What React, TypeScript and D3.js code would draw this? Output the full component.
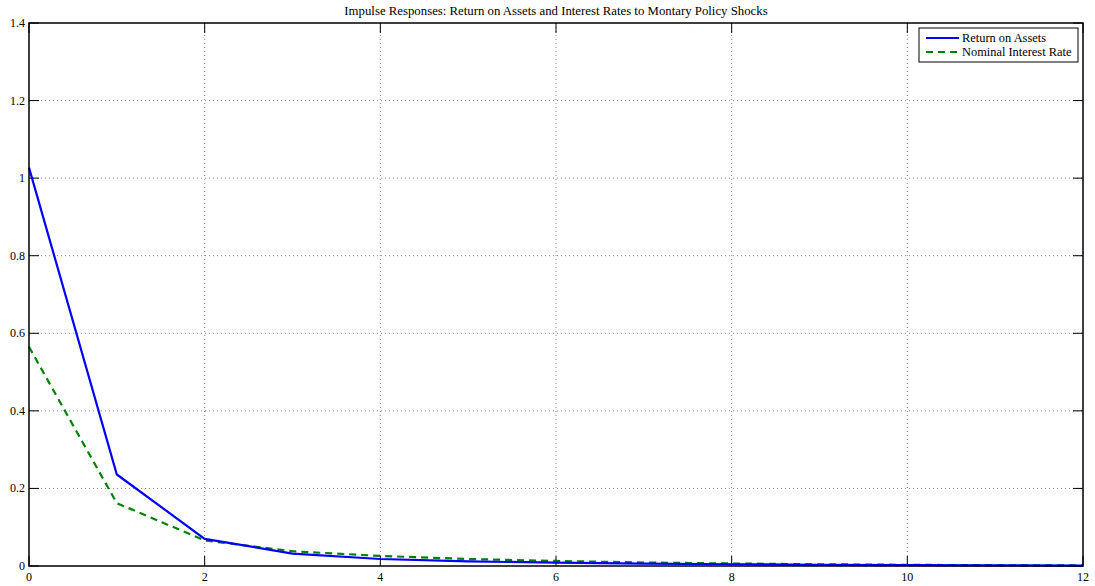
import { useEffect, useRef } from 'react';
import * as d3 from 'd3';

// impulse response horizon (periods)
const periods = [0, 1, 2, 3, 4, 5, 6, 7, 8, 9, 10, 11, 12];
const returnOnAssets = [1.027, 0.236, 0.070, 0.032, 0.018, 0.012, 0.0085, 0.006, 0.0045, 0.003, 0.002, 0.0015, 0.001];
const nominalRate = [0.565, 0.162, 0.066, 0.038, 0.026, 0.018, 0.013, 0.009, 0.0065, 0.0045, 0.003, 0.002, 0.0015];
const xTicks = [0, 2, 4, 6, 8, 10, 12];
const yTicks = [0, 0.2, 0.4, 0.6, 0.8, 1, 1.2, 1.4];
const seriesNames = ['Return on Assets', 'Nominal Interest Rate'];

const W = 1095;
const H = 586;
const margin = { left: 29, right: 12, top: 23, bottom: 20 };

export default function App() {
    const svgRef = useRef<SVGSVGElement>(null);

    useEffect(() => {
        const svg = d3.select(svgRef.current);
        svg.selectAll('*').remove();

        const innerW = W - margin.left - margin.right;
        const innerH = H - margin.top - margin.bottom;
        const x = d3.scaleLinear().domain([0, 12]).range([0, innerW]);
        const y = d3.scaleLinear().domain([0, 1.4]).range([innerH, 0]);
        const font = '"Liberation Serif", "Times New Roman", serif';

        const g = svg.append('g').attr('transform', `translate(${margin.left},${margin.top})`);

        // dotted grid
        g.selectAll('.gx').data(xTicks.slice(1, -1)).enter().append('line')
            .attr('x1', (d) => x(d)).attr('x2', (d) => x(d))
            .attr('y1', 0).attr('y2', innerH)
            .attr('stroke', '#888').attr('stroke-width', 1).attr('stroke-dasharray', '1,3');
        g.selectAll('.gy').data(yTicks.slice(1, -1)).enter().append('line')
            .attr('y1', (d) => y(d)).attr('y2', (d) => y(d))
            .attr('x1', 0).attr('x2', innerW)
            .attr('stroke', '#888').attr('stroke-width', 1).attr('stroke-dasharray', '1,3');

        // inward ticks on all four sides
        const tl = 10;
        xTicks.forEach((t) => {
            g.append('line').attr('x1', x(t)).attr('x2', x(t)).attr('y1', innerH).attr('y2', innerH - tl).attr('stroke', '#000');
            g.append('line').attr('x1', x(t)).attr('x2', x(t)).attr('y1', 0).attr('y2', tl).attr('stroke', '#000');
        });
        yTicks.forEach((t) => {
            g.append('line').attr('y1', y(t)).attr('y2', y(t)).attr('x1', 0).attr('x2', tl).attr('stroke', '#000');
            g.append('line').attr('y1', y(t)).attr('y2', y(t)).attr('x1', innerW).attr('x2', innerW - tl).attr('stroke', '#000');
        });

        // tick labels
        g.selectAll('.xl').data(xTicks).enter().append('text')
            .attr('x', (d) => x(d)).attr('y', innerH + 15)
            .attr('text-anchor', 'middle').attr('font-family', font).attr('font-size', 12)
            .text((d) => d3.format('~g')(d));
        g.selectAll('.yl').data(yTicks).enter().append('text')
            .attr('x', -4).attr('y', (d) => y(d) + 4)
            .attr('text-anchor', 'end').attr('font-family', font).attr('font-size', 12)
            .text((d) => d3.format('~g')(d));

        const line = d3.line<number>().x((_, i) => x(periods[i])).y((d) => y(d));

        g.append('path').datum(nominalRate).attr('d', line)
            .attr('fill', 'none').attr('stroke', '#008000').attr('stroke-width', 2.2)
            .attr('stroke-dasharray', '7,5');
        g.append('path').datum(returnOnAssets).attr('d', line)
            .attr('fill', 'none').attr('stroke', '#0000ff').attr('stroke-width', 2.2);

        // axes box
        g.append('rect').attr('width', innerW).attr('height', innerH)
            .attr('fill', 'none').attr('stroke', '#000').attr('stroke-width', 1.5);

        // title
        svg.append('text').attr('x', margin.left + innerW / 2).attr('y', 15)
            .attr('text-anchor', 'middle').attr('font-family', font).attr('font-size', 12.8)
            .text('Impulse Responses: Return on Assets and Interest Rates to Montary Policy Shocks');

        // legend
        const lg = svg.append('g').attr('transform', 'translate(919,28)');
        lg.append('rect').attr('width', 159).attr('height', 34)
            .attr('fill', '#fff').attr('stroke', '#000').attr('stroke-width', 1);
        const colors = ['#0000ff', '#008000'];
        seriesNames.forEach((name, i) => {
            const yy = 10 + i * 14;
            lg.append('line').attr('x1', 7).attr('x2', 40).attr('y1', yy).attr('y2', yy)
                .attr('stroke', colors[i]).attr('stroke-width', 2.2)
                .attr('stroke-dasharray', i === 1 ? '7,5' : null);
            lg.append('text').attr('x', 43).attr('y', yy + 4)
                .attr('font-family', font).attr('font-size', 12.4).text(name);
        });
    }, []);

    return (
        <svg ref={svgRef} width={W} height={H}
            style={{ position: 'absolute', left: 0, top: 0, background: '#fff' }} />
    );
}
